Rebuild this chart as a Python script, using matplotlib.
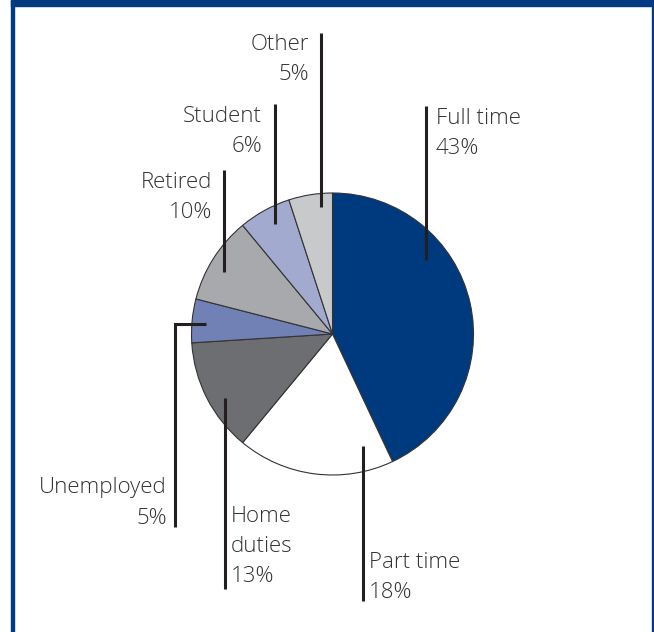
import matplotlib
matplotlib.use("Agg")
import matplotlib.pyplot as plt
from matplotlib.patches import Rectangle

# --------------------------------------------
# Data: employment status shares (%)
# --------------------------------------------
categories = ["Full time", "Part time", "Home duties", "Unemployed",
              "Retired", "Student", "Other"]
shares = [43, 18, 13, 5, 10, 6, 5]
colors = ["#003A7E", "#FFFFFF", "#6D6E71", "#7281B5",
          "#A7A9AC", "#A3AACF", "#C8C9CB"]

# --------------------------------------------
# Layout (pixels, origin top-left)
# --------------------------------------------
W, H = 654, 632
CENTER = (332.5, 334)
RADIUS = 141
BLUE = "#003A80"
TEXT = "#333333"
LINE = "#231F20"

# leader line points and label anchor per category
leaders = {
    "Full time":   [(426, 260), (426, 106)],
    "Part time":   [(363, 446), (363, 601)],
    "Home duties": [(225, 398), (225, 589)],
    "Unemployed":  [(206, 324), (175, 324), (175, 527)],
    "Retired":     [(224, 272), (224, 170)],
    "Student":     [(275, 224), (275, 104)],
    "Other":       [(321, 207), (321, 33)],
}
labels = {
    "Full time":   (436, 118, "left", ["Full time"]),
    "Part time":   (369, 563, "left", ["Part time"]),
    "Home duties": (231, 517, "left", ["Home", "duties"]),
    "Unemployed":  (167, 488, "right", ["Unemployed"]),
    "Retired":     (212, 182, "right", ["Retired"]),
    "Student":     (262, 116, "right", ["Student"]),
    "Other":       (309, 44, "right", ["Other"]),
}
ROW = 30


def fy(y):
    return H - y


fig = plt.figure(figsize=(W / 100, H / 100), dpi=100)
ax = fig.add_axes([0, 0, 1, 1])

# frame
fig.patches.append(Rectangle((11 / W, 1 - 6 / H), 1, 6 / H, transform=fig.transFigure,
                             color=BLUE, zorder=0))
fig.patches.append(Rectangle((11 / W, 0), 3 / W, 1, transform=fig.transFigure,
                             color=BLUE, zorder=0))
fig.patches.append(Rectangle((651.5 / W, 0), 2.5 / W, 1, transform=fig.transFigure,
                             color=BLUE, zorder=0))

ax.pie(shares, colors=colors, startangle=90, counterclock=False,
       center=(CENTER[0], fy(CENTER[1])), radius=RADIUS,
       wedgeprops=dict(edgecolor="#333333", linewidth=0.8), frame=True)
ax.set_xlim(0, W)
ax.set_ylim(0, H)
ax.set_aspect("equal")
ax.axis("off")

for cat, share in zip(categories, shares):
    pts = leaders[cat]
    ax.plot([p[0] for p in pts], [fy(p[1]) for p in pts], color=LINE,
            linewidth=2.2, solid_capstyle="butt", solid_joinstyle="miter", zorder=5)
    x, y, ha, lines = labels[cat]
    for i, txt in enumerate(lines + [f"{share}%"]):
        ax.text(x, fy(y + i * ROW), txt, ha=ha, va="center", fontsize=16,
                family="Open Sans", fontweight="light", color=TEXT)

fig.savefig("out.png", dpi=100)
